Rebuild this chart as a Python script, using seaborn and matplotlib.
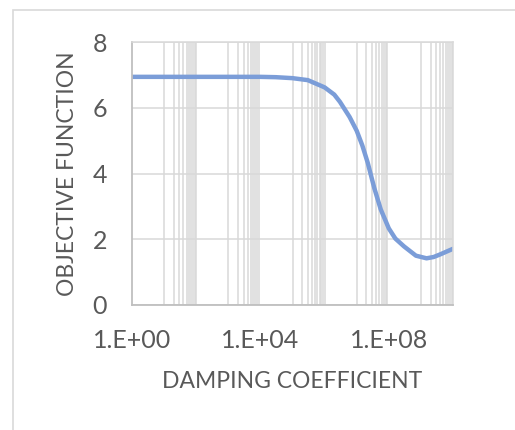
import numpy as np
import pandas as pd
import seaborn as sns
import matplotlib.pyplot as plt
import matplotlib.ticker as mticker
from matplotlib.patches import Rectangle

# values
damping = [1e0, 1e1, 1e2, 1e3, 1e4, 3e4, 1e5, 3e5, 1e6, 2e6, 3e6, 6e6, 1e7,
           1.5e7, 2.2e7, 3.5e7, 5.6e7, 1e8, 1.6e8, 3e8, 7e8, 1.5e9, 2.5e9, 4e9, 1e10]
objective = [6.94, 6.94, 6.94, 6.94, 6.94, 6.93, 6.90, 6.84, 6.62, 6.40, 6.18, 5.72, 5.30,
             4.85, 4.33, 3.57, 2.91, 2.33, 2.02, 1.78, 1.50, 1.42, 1.46, 1.54, 1.71]
x_ticks = [1e0, 1e4, 1e8]
x_tick_labels = ['1.E+00', '1.E+04', '1.E+08']
y_ticks = [0, 2, 4, 6, 8]

df = pd.DataFrame({'damping': damping, 'objective': objective})

sns.set_theme(style="white")
plt.rcParams['font.family'] = ['Lato', 'DejaVu Sans']
text_col = '#595959'
grid_col = '#D9D9D9'

fig = plt.figure(figsize=(5.15, 4.3), dpi=100)
ax = fig.add_axes([132 / 515, 125 / 430, 321 / 515, 263 / 430])

# chart area border (runs off the right and bottom edge)
fig.patches.append(Rectangle((12.5 / 515, -0.1), 1.2, 1 - 10 / 430 + 0.1,
                             transform=fig.transFigure, fill=False,
                             edgecolor=grid_col, linewidth=1.2))

ax.set_xscale('log')
sns.lineplot(data=df, x='damping', y='objective', ax=ax, color='#7B9DD8',
             linewidth=3.2, solid_capstyle='round')

ax.set_xlim(1e0, 1e10)
ax.set_ylim(0, 8)

# gridlines: every 100x plus 10..90 within the odd decades
grid_pos = []
for n in range(6):
    grid_pos.append(100.0 ** n)
    if n < 5:
        for k in range(1, 10):
            grid_pos.append(10.0 * k * 100.0 ** n)
ax.xaxis.set_major_locator(mticker.FixedLocator(x_ticks))
ax.xaxis.set_major_formatter(mticker.FixedFormatter(x_tick_labels))
ax.xaxis.set_minor_locator(mticker.FixedLocator(grid_pos))
ax.xaxis.set_minor_formatter(mticker.NullFormatter())
ax.set_yticks(y_ticks)

ax.grid(False)
ax.grid(axis='x', which='minor', color=grid_col, linewidth=1.1)
ax.grid(axis='y', which='major', color=grid_col, linewidth=1.1)
ax.set_axisbelow(True)

for side in ['top', 'right']:
    ax.spines[side].set_color(grid_col)
    ax.spines[side].set_linewidth(1.1)
for side in ['left', 'bottom']:
    ax.spines[side].set_color('#BFBFBF')
    ax.spines[side].set_linewidth(1.3)

ax.tick_params(axis='both', which='both', length=0, labelsize=18, colors=text_col)
ax.tick_params(axis='y', pad=18)
ax.tick_params(axis='x', pad=17)

ax.set_xlabel('DAMPING COEFFICIENT', fontsize=16.5, color=text_col)
ax.set_ylabel('OBJECTIVE FUNCTION', fontsize=16.5, color=text_col)
ax.xaxis.label.set_va('center')
ax.yaxis.label.set_va('center')
ax.xaxis.set_label_coords(0.5, -76 / 263)
ax.yaxis.set_label_coords(-64 / 321, 0.5)

plt.savefig('out.png', dpi=100)
